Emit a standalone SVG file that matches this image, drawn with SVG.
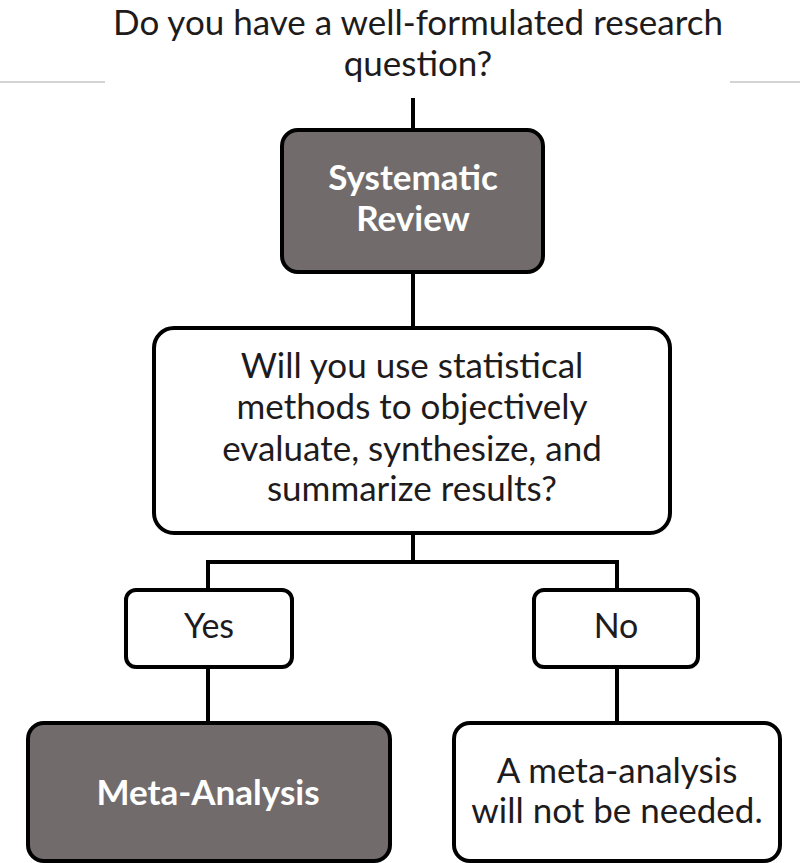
<svg xmlns="http://www.w3.org/2000/svg" width="800" height="863" viewBox="0 0 800 863">
<style>
.box{stroke:#000;stroke-width:4}
.dark{fill:#716c6b}
.light{fill:#fff}
.t{font-family:Lato,"Liberation Sans",sans-serif;fill:#1e1b1c;text-anchor:middle}
.w{font-family:Lato,"Liberation Sans",sans-serif;fill:#fff;font-weight:bold;text-anchor:middle}
.c{stroke:#000;stroke-width:4;fill:none}
</style>
<rect width="800" height="863" fill="#fff"/>
<g id="title">
<line x1="0" y1="82" x2="105" y2="82" stroke="#d4d4d4" stroke-width="2"/>
<line x1="730" y1="82" x2="800" y2="82" stroke="#d4d4d4" stroke-width="2"/>
<text class="t" x="418" y="35" font-size="35">Do you have a well-formulated research</text>
<text class="t" x="418" y="76" font-size="35">question?</text>
</g>
<g id="connectors">
<line class="c" x1="413" y1="98" x2="413" y2="130"/>
<line class="c" x1="413" y1="272" x2="413" y2="328"/>
<polyline class="c" points="413,533 413,562 208,562 208,590"/>
<polyline class="c" points="413,562 617,562 617,590"/>
<line class="c" x1="208" y1="667" x2="208" y2="723"/>
<line class="c" x1="617" y1="667" x2="617" y2="723"/>
</g>
<g id="systematic-review">
<rect class="box dark" x="282" y="130" width="261" height="142" rx="16"/>
<text class="w" x="413" y="190" font-size="35">Systematic</text>
<text class="w" x="413" y="231" font-size="35">Review</text>
</g>
<g id="question">
<rect class="box light" x="154" y="328" width="516" height="205" rx="20"/>
<text class="t" font-size="35" x="412" y="378">Will you use statistical</text>
<text class="t" font-size="35" x="412" y="419">methods to objectively</text>
<text class="t" font-size="35" x="412" y="461">evaluate, synthesize, and</text>
<text class="t" font-size="35" x="412" y="501">summarize results?</text>
</g>
<g id="yes">
<rect class="box light" x="126" y="590" width="166" height="77" rx="10"/>
<text class="t" font-size="34" x="209" y="638">Yes</text>
</g>
<g id="no">
<rect class="box light" x="534" y="590" width="164" height="77" rx="10"/>
<text class="t" font-size="34" x="616" y="638">No</text>
</g>
<g id="meta-analysis">
<rect class="box dark" x="28" y="723" width="362" height="138" rx="16"/>
<text class="w" font-size="35" x="208" y="805">Meta-Analysis</text>
</g>
<g id="not-needed">
<rect class="box light" x="454" y="723" width="326" height="138" rx="16"/>
<text class="t" font-size="35" x="617" y="783">A meta-analysis</text>
<text class="t" font-size="35" x="617" y="823">will not be needed.</text>
</g>
</svg>
